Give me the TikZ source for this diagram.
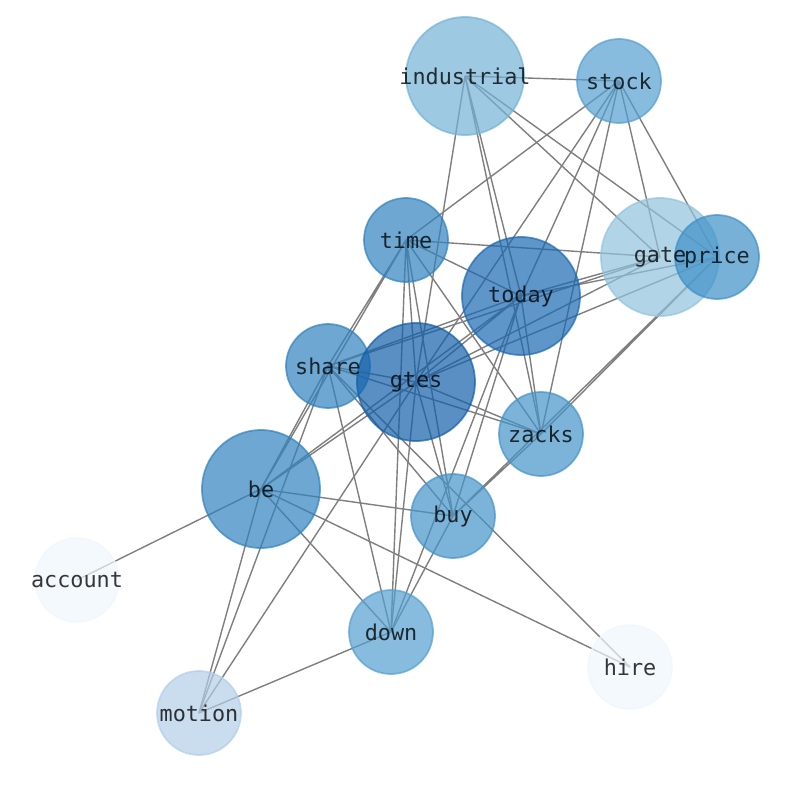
\documentclass[tikz,border=0pt]{standalone}
\usepackage{fontspec}
\setmonofont{DejaVu Sans Mono}
\usetikzlibrary{positioning}
\pgfdeclarelayer{background}
\pgfsetlayers{background,main}
\definecolor{bluedeep}{HTML}{135FA9}
\definecolor{bluedark}{HTML}{1A69B2}
\definecolor{bluestrong}{HTML}{3182BE}
\definecolor{bluemid}{HTML}{3E90C7}
\definecolor{bluesoft}{HTML}{4593C9}
\definecolor{bluelight}{HTML}{559FD0}
\definecolor{bluepale}{HTML}{73B2D6}
\definecolor{bluewash}{HTML}{91C2DD}
\definecolor{bluemist}{HTML}{B2CEE8}
\definecolor{bluefaint}{HTML}{EFF6FE}
\definecolor{linkgrey}{HTML}{7F7F7F}

\begin{document}
\begin{tikzpicture}[x=0.02cm, y=-0.02cm,
    word/.style={circle, inner sep=0pt, line width=1pt, fill opacity=0.7,
      draw opacity=0.7, minimum size=1.68cm},
    big/.style={minimum size=2.36cm},
    tag/.style={font=\ttfamily\fontsize{12.4}{14}\selectfont,
      text=black, text opacity=0.78, inner sep=0pt},
    link/.style={draw=linkgrey, line width=0.8pt}]
  \useasboundingbox (0,0) rectangle (794,790);

  % word circles
  \node[word, big, fill=bluepale, draw=bluepale] (industrial) at (465,76) {};
  \node[word, fill=bluelight, draw=bluelight] (stock) at (619,81) {};
  \node[word, fill=bluestrong, draw=bluestrong] (time) at (406,240) {};
  \node[word, big, fill=bluewash, draw=bluewash] (gate) at (660,257) {};
  \node[word, fill=bluemid, draw=bluemid] (price) at (717,257) {};
  \node[word, big, fill=bluedark, draw=bluedark] (today) at (521,296) {};
  \node[word, fill=bluestrong, draw=bluestrong] (share) at (328,366) {};
  \node[word, big, fill=bluedeep, draw=bluedeep] (gtes) at (416,382) {};
  \node[word, fill=bluesoft, draw=bluesoft] (zacks) at (541,434) {};
  \node[word, big, fill=bluestrong, draw=bluestrong] (be) at (261,489) {};
  \node[word, fill=bluesoft, draw=bluesoft] (buy) at (453,516) {};
  \node[word, fill=bluefaint, draw=bluefaint] (account) at (77,580) {};
  \node[word, fill=bluelight, draw=bluelight] (down) at (391,632) {};
  \node[word, fill=bluefaint, draw=bluefaint] (hire) at (630,667) {};
  \node[word, fill=bluemist, draw=bluemist] (motion) at (199,713) {};

  % labels on top
  \node[tag] (industrial-t) at (industrial) {industrial};
  \node[tag] (stock-t) at (stock) {stock};
  \node[tag] (time-t) at (time) {time};
  \node[tag] (gate-t) at (gate) {gate};
  \node[tag] (price-t) at (price) {price};
  \node[tag] (today-t) at (today) {today};
  \node[tag] (share-t) at (share) {share};
  \node[tag] (gtes-t) at (gtes) {gtes};
  \node[tag] (zacks-t) at (zacks) {zacks};
  \node[tag] (be-t) at (be) {be};
  \node[tag] (buy-t) at (buy) {buy};
  \node[tag] (account-t) at (account) {account};
  \node[tag] (down-t) at (down) {down};
  \node[tag] (hire-t) at (hire) {hire};
  \node[tag] (motion-t) at (motion) {motion};

  % links, centre to centre, under the circles
  \begin{pgfonlayer}{background}
    \draw[link] (industrial.center) -- (stock.center)
      (industrial.center) -- (gtes.center)
      (industrial.center) -- (today.center)
      (industrial.center) -- (zacks.center)
      (industrial.center) -- (gate.center)
      (industrial.center) -- (price.center);
    \draw[link] (stock.center) -- (time.center)
      (stock.center) -- (gtes.center)
      (stock.center) -- (today.center)
      (stock.center) -- (zacks.center)
      (stock.center) -- (gate.center)
      (stock.center) -- (price.center);
    \draw[link] (time.center) -- (gate.center)
      (time.center) -- (today.center)
      (time.center) -- (zacks.center)
      (time.center) -- (down.center)
      (time.center) -- (gtes.center)
      (time.center) -- (buy.center)
      (time.center) -- (share.center)
      (time.center) -- (be.center);
    \draw[link] (today.center) -- (share.center)
      (today.center) -- (be.center)
      (today.center) -- (gate.center)
      (today.center) -- (price.center)
      (today.center) -- (gtes.center)
      (today.center) -- (down.center)
      (today.center) -- (buy.center)
      (today.center) -- (zacks.center);
    \draw[link] (gtes.center) -- (gate.center)
      (gtes.center) -- (price.center)
      (gtes.center) -- (zacks.center)
      (gtes.center) -- (share.center)
      (gtes.center) -- (be.center)
      (gtes.center) -- (down.center)
      (gtes.center) -- (buy.center)
      (gtes.center) -- (motion.center);
    \draw[link] (share.center) -- (zacks.center)
      (share.center) -- (gate.center)
      (share.center) -- (be.center)
      (share.center) -- (motion.center)
      (share.center) -- (down.center)
      (share.center) -- (buy.center)
      (share.center) -- (hire.center);
    \draw[link] (zacks.center) -- (price.center)
      (zacks.center) -- (buy.center)
      (buy.center) -- (price.center)
      (buy.center) -- (be.center)
      (buy.center) -- (down.center);
    \draw[link] (be.center) -- (account.center)
      (be.center) -- (down.center)
      (be.center) -- (hire.center)
      (be.center) -- (motion.center)
      (down.center) -- (motion.center);
  \end{pgfonlayer}
\end{tikzpicture}
\end{document}
